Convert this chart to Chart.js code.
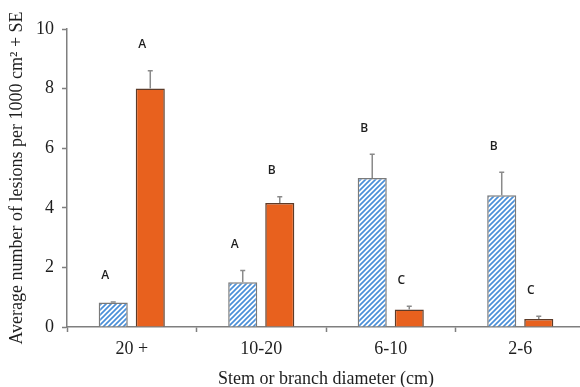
<!DOCTYPE html>
<html>
<head>
<meta charset="utf-8">
<script src="https://cdn.jsdelivr.net/npm/chart.js@4"></script>
<style>
  html, body { margin: 0; padding: 0; background: #fff; overflow: hidden; }
  #wrap { width: 580px; height: 387px; overflow: hidden; }
  canvas { display: block; }
</style>
</head>
<body>
<div id="wrap"><canvas id="myChart" width="586" height="387"></canvas></div>
<script>
// data
const categories = ['20 +', '10-20', '6-10', '2-6'];
const hatchedMeans = [0.82, 1.5, 5.0, 4.42];
const hatchedSE = [0.02, 0.4, 0.8, 0.77];
const hatchedLetters = ['A', 'A', 'B', 'B'];
const solidMeans = [8.0, 4.16, 0.59, 0.27];
const solidSE = [0.6, 0.21, 0.11, 0.09];
const solidLetters = ['A', 'B', 'C', 'C'];
const yMin = 0;
const yMax = 10;
const yStep = 2;

const axisColor = '#7f7f7f';
const textColor = '#1e1e1e';
const serif = "'Liberation Serif', 'Times New Roman', serif";

// diagonal hatch for the first series
function makeHatch() {
  const s = 5;
  const c = document.createElement('canvas');
  c.width = s;
  c.height = s;
  const g = c.getContext('2d');
  g.fillStyle = '#ffffff';
  g.fillRect(0, 0, s, s);
  g.strokeStyle = '#4a8fd8';
  g.lineWidth = 1.7;
  g.beginPath();
  g.moveTo(0, s); g.lineTo(s, 0);
  g.moveTo(-1, 1); g.lineTo(1, -1);
  g.moveTo(s - 1, s + 1); g.lineTo(s + 1, s - 1);
  g.stroke();
  return g.createPattern(c, 'repeat');
}

const errors = [hatchedSE, solidSE];
const letters = [hatchedLetters, solidLetters];

// error bars (+SE only) and the significance letters
const errorBarPlugin = {
  id: 'errorBars',
  afterDatasetsDraw(chart) {
    const ctx = chart.ctx;
    const yScale = chart.scales.y;
    ctx.save();
    chart.data.datasets.forEach((ds, di) => {
      const meta = chart.getDatasetMeta(di);
      meta.data.forEach((bar, i) => {
        const top = yScale.getPixelForValue(ds.data[i] + errors[di][i]);
        ctx.strokeStyle = '#8a8a8a';
        ctx.lineWidth = 1.5;
        ctx.beginPath();
        ctx.moveTo(bar.x, bar.y);
        ctx.lineTo(bar.x, top);
        ctx.moveTo(bar.x - 2.5, top);
        ctx.lineTo(bar.x + 2.5, top);
        ctx.stroke();

        ctx.fillStyle = textColor;
        ctx.font = "600 12px 'Open Sans', sans-serif";
        ctx.textAlign = 'center';
        ctx.textBaseline = 'middle';
        ctx.fillText(letters[di][i], bar.x - 8, top - 26);
      });
    });
    ctx.restore();
  }
};

const ctx = document.getElementById('myChart').getContext('2d');
const chart = new Chart(ctx, {
  type: 'bar',
  data: {
    labels: categories,
    datasets: [
      {
        label: 'hatched',
        data: hatchedMeans,
        backgroundColor: makeHatch(),
        borderColor: '#7a7a7a',
        borderWidth: 1.5,
        categoryPercentage: 0.572,
        barPercentage: 0.785
      },
      {
        label: 'solid',
        data: solidMeans,
        backgroundColor: '#e8611e',
        borderColor: '#5e3b28',
        borderWidth: 1.5,
        categoryPercentage: 0.572,
        barPercentage: 0.785
      }
    ]
  },
  options: {
    responsive: false,
    animation: false,
    layout: { padding: { top: 29, right: 1, left: 0, bottom: 0 } },
    plugins: {
      legend: { display: false },
      tooltip: { enabled: false }
    },
    scales: {
      x: {
        offset: true,
        grid: {
          offset: true,
          drawOnChartArea: false,
          drawTicks: true,
          tickLength: 5,
          tickColor: axisColor,
          tickWidth: 1.5
        },
        border: { color: axisColor, width: 1.5 },
        ticks: {
          color: textColor,
          padding: 6,
          font: { family: serif, size: 18 }
        },
        title: {
          display: true,
          text: 'Stem or branch diameter (cm)',
          color: textColor,
          padding: { top: 0, bottom: -1 },
          font: { family: serif, size: 18, lineHeight: 1 }
        },
        afterFit(scale) { scale.height = 60; }
      },
      y: {
        min: yMin,
        max: yMax,
        grid: {
          drawOnChartArea: false,
          drawTicks: true,
          tickLength: 5,
          tickColor: axisColor,
          tickWidth: 1.5
        },
        border: { color: axisColor, width: 1.5 },
        ticks: {
          stepSize: yStep,
          color: textColor,
          padding: 8,
          font: { family: serif, size: 18 }
        },
        title: {
          display: true,
          text: 'Average number of lesions per 1000 cm² + SE',
          color: textColor,
          padding: { top: 8, bottom: 0 },
          font: { family: serif, size: 18, lineHeight: 1 }
        },
        afterFit(scale) { scale.width = 67; }
      }
    }
  },
  plugins: [errorBarPlugin]
});
</script>
</body>
</html>
